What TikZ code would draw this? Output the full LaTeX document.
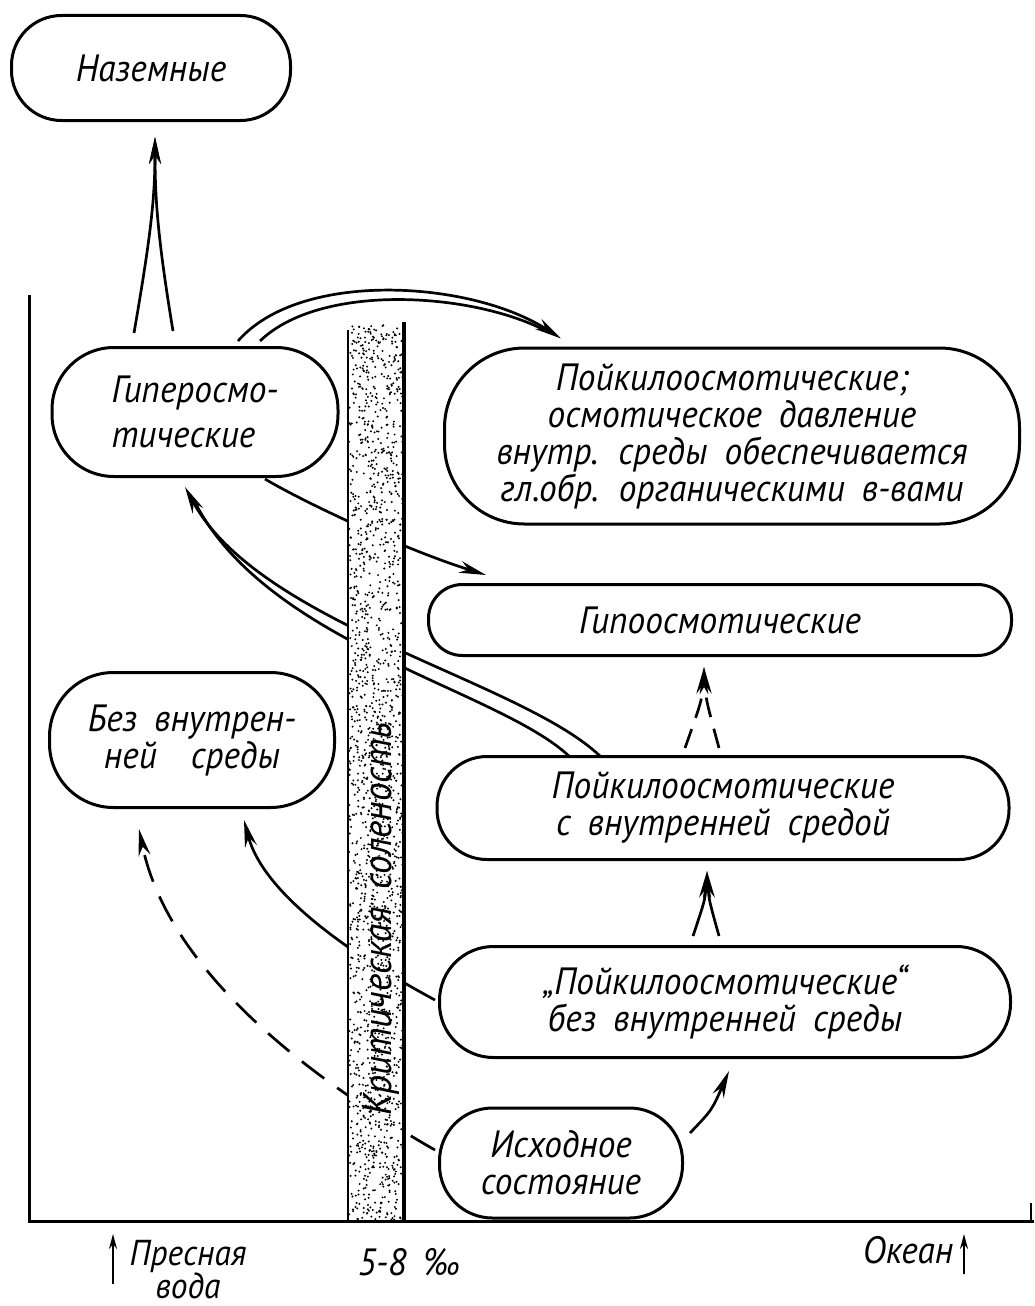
\documentclass[tikz,border=0pt]{standalone}
\usepackage{fontspec}
\setmainfont{PT Sans}[FakeStretch=0.93, WordSpace=1.8]
\usepackage{tikz}
\usetikzlibrary{arrows.meta, calc}
\tikzset{stage/.style={draw, line width=3pt, align=center, inner sep=0pt}}
\tikzset{flow/.style={line width=2.7pt, -{Stealth[length=27pt, width=12pt]}}}
\tikzset{tail/.style={line width=2.7pt}}
\tikzset{gap/.style={dash pattern=on 28pt off 16pt}}
\tikzset{updir/.style={line width=2pt, -{Stealth[length=15pt, width=8pt]}}}

\begin{document}
\begin{tikzpicture}[x=1pt, y=-1pt, font=\itshape\fontsize{38}{37}\selectfont]
\useasboundingbox (0,0) rectangle (1034,1306);

\node[stage, minimum width=279pt, minimum height=105pt, rounded corners=50pt] (land) at (151,68) {Наземные};
\node[stage, minimum width=286pt, minimum height=129pt, rounded corners=62pt, align=left] (hyper) at (195,412) {Гиперосмо-\\[8pt]тические};
\node[stage, minimum width=575pt, minimum height=176pt, rounded corners=80pt] (poikorg) at (732,436) {Пойкилоосмотические;\\осмотическое давление\\внутр. среды обеспечивается\\гл.обр. органическими в-вами};
\node[stage, minimum width=583pt, minimum height=71pt, rounded corners=34pt] (hypo) at (720,620) {Гипоосмотические};
\node[stage, minimum width=285pt, minimum height=135pt, rounded corners=64pt] (noenv) at (192,740) {Без внутрен-\\ней\ \ среды};
\node[stage, minimum width=572pt, minimum height=103pt, rounded corners=50pt] (poikint) at (723,808) {Пойкилоосмотические\\с внутренней средой};
\node[stage, minimum width=571pt, minimum height=111pt, rounded corners=54pt] (poikno) at (725,1002) {„Пойкилоосмотические“\\без внутренней среды};
\node[stage, minimum width=243pt, minimum height=110pt, rounded corners=53pt] (start) at (561,1163) {Исходное\\состояние};

% hyper -> land
\draw[flow] ($(hyper.north)+(-61,-13)$) .. controls (150,240) and (155,200) .. ($(land.south)+(4,15)$);
\draw[flow] ($(hyper.north)+(-22,-15)$) .. controls (158,240) and (155,200) .. ($(land.south)+(4,15)$);

% hyper -> poikorg
\draw[flow] ($(hyper.north)+(43,-5)$) .. controls (300,270) and (470,280) .. ($(poikorg.north)+(-171,-8)$);
\draw[tail, shorten >=18pt] ($(hyper.north)+(65,-5)$) .. controls (320,283) and (470,292) .. ($(poikorg.north)+(-171,-8)$);

% hyper -> hypo
\draw[flow] ($(hyper.south)+(70,1)$) .. controls (300,500) and (400,548) .. ($(hypo.west)+(59,-45)$);

% poikint -> hyper
\draw[flow] ($(poikint.north)+(-123,1)$) .. controls (520,680) and (260,625) .. ($(hyper.south)+(-10,9)$);
\draw[tail, shorten >=12pt] ($(poikint.north)+(-153,2)$) .. controls (500,690) and (270,645) .. ($(hyper.south)+(-5,15)$);

% poikno -> noenv, start -> noenv
\draw[flow] ($(poikno.west)+(-3,-2)$) .. controls (370,965) and (265,900) .. ($(noenv.south)+(52,11)$);
\draw[flow, gap] ($(start.west)+(-3,-13)$) .. controls (330,1090) and (170,980) .. ($(noenv.south)+(-53,20)$);

% start -> poikno -> poikint -> hypo
\draw[flow] ($(start.east)+(6,-30)$) .. controls (712,1110) .. ($(poikno.south)+(4,12)$);
\draw[flow] ($(poikno.north)+(-32,-9)$) .. controls (705,900) .. ($(poikint.south)+(-16,10)$);
\draw[flow] ($(poikno.north)+(-6,-9)$) .. controls (709,900) .. ($(poikint.south)+(-16,10)$);
\draw[flow, dash pattern=on 20pt off 12pt] ($(poikint.north)+(-38,-7)$) .. controls (702,700) .. ($(hypo.south)+(-16,10)$);
\draw[flow, dash pattern=on 20pt off 12pt] ($(poikint.north)+(-4,-7)$) .. controls (706,700) .. ($(hypo.south)+(-16,10)$);

% critical salinity band
\fill[white] (348,324) rectangle (404,1221);
\pgfmathsetseed{7}
\foreach \i in {1,...,1800} \fill ({349+54*rnd},{325+895*rnd}) circle (1.1);
\draw[line width=1.8pt] (348,330) -- (348,1221);
\draw[line width=3.2pt] (404,322) -- (404,1221);
\node[rotate=90, font=\itshape\fontsize{40}{40}\selectfont] (crit) at (381,919) {Критическая\ соленость};

% axes
\draw[line width=3pt] (29,295) -- (29,1221) -- (1034,1221);
\draw[line width=2pt] (1031,1203) -- (1031,1221);

\node[anchor=north, inner sep=0pt, align=center, font=\itshape\fontsize{36}{33}\selectfont] (fresh) at (188,1240) {Пресная\\вода};
\node (salt) at (409,1262) {5-8 ‰};
\node (ocean) at (908,1250) {Океан};
\coordinate (fw) at (113,1284);
\draw[updir] (fw) -- ++(0,-50);
\coordinate (oc) at (964,1274);
\draw[updir] (oc) -- ++(0,-40);
\end{tikzpicture}
\end{document}
